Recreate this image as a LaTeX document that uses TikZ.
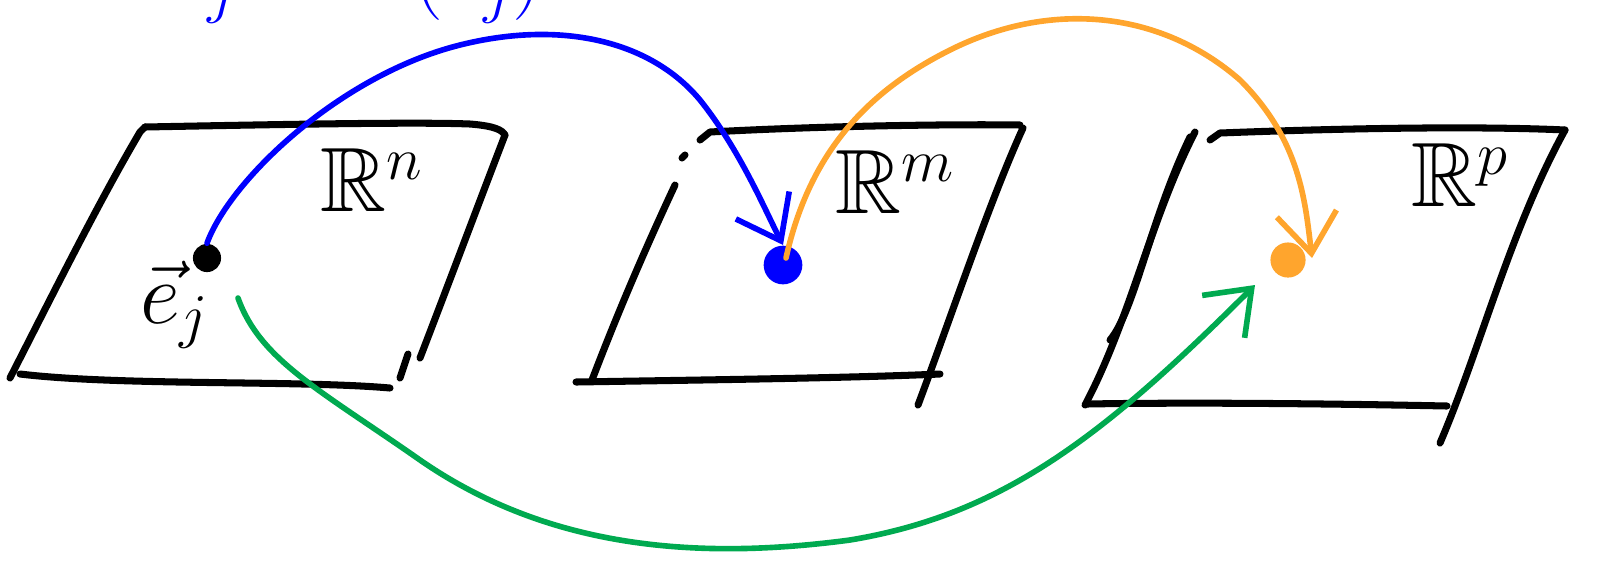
\documentclass[tikz,border=0pt]{standalone}
\usepackage{amsmath, amsfonts, amssymb}
\usepackage{tikz}
\usetikzlibrary{arrows.meta, positioning, calc}
\definecolor{mapblue}{RGB}{0, 0, 255}
\definecolor{maporange}{RGB}{255, 165, 45}
\definecolor{mapgreen}{RGB}{0, 170, 80}

\tikzset{
  plane/.style={line width=2pt, line cap=round, line join=round},
  maparrow/.style={line width=1.6pt, line cap=round, -{Straight Barb[length=4mm, width=6mm, line width=1.6pt]}},
  dot/.style={circle, inner sep=0pt, minimum size=8pt},
  spacelabel/.style={font=\fontsize{26}{30}\selectfont}
}

\begin{document}
\begin{tikzpicture}[x=0.01cm, y=-0.01cm]
        \useasboundingbox (0,0) rectangle (1604,566);

        % first plane, R^n
        \draw[plane] (145,127) .. controls (300,124) and (420,122) .. (470,124)
          .. controls (495,126) and (502,130) .. (505,135);
        \draw[plane] (145,127) -- (140,132) .. controls (100,200) and (60,280) .. (10,378);
        \draw[plane] (505,135) .. controls (480,200) and (450,280) .. (420,358);
        \draw[plane] (20,374) .. controls (120,386) and (300,380) .. (390,388);
        \draw[plane] (408,354) -- (400,378);

        % second plane, R^m
        \draw[plane] (700,140) -- (710,132) .. controls (820,126) and (950,124) .. (1020,125);
        \draw[plane] (685,155) -- (682,158);
        \draw[plane] (675,185) .. controls (640,260) and (615,320) .. (592,380);
        \draw[plane] (1023,128) .. controls (990,200) and (950,320) .. (918,405);
        \draw[plane] (576,382) .. controls (700,380) and (850,378) .. (940,374);

        % third plane, R^p
        \draw[plane] (1210,140) -- (1220,133) .. controls (1350,128) and (1480,126) .. (1565,130);
        \draw[plane] (1195,132) .. controls (1150,220) and (1130,320) .. (1085,405);
        \draw[plane] (1190,137) .. controls (1150,220) and (1135,310) .. (1110,340);
        \draw[plane] (1565,130) .. controls (1510,230) and (1480,350) .. (1440,443);
        \draw[plane] (1087,404) .. controls (1200,402) and (1350,404) .. (1447,406);

        % space labels
        \node[spacelabel] (Rn) at (372,180) {$\mathbb{R}^n$};
        \node[spacelabel] (Rm) at (895,182) {$\mathbb{R}^m$};
        \node[spacelabel] (Rp) at (1460,175) {$\mathbb{R}^p$};
        \node[spacelabel] (ej) at (175,305) {$\vec{e}_j$};

        % top label, mostly cut off
        \node[spacelabel, mapblue, anchor=base west] (tlabel) at (150,-2) {$a_j$ is $A(e_j)$};

        % points
        \node[dot, fill=black] (pe) at (207,258) {};
        \node[dot, fill=mapblue, minimum size=11pt] (pb) at (783,265) {};
        \node[dot, fill=maporange, minimum size=10pt] (po) at (1288,260) {};
        \coordinate (gs) at (238,298);
        \coordinate (ge) at (1255,285);

        % the maps
        \draw[maparrow, mapblue] (pe.north) .. controls (230,180) and (340,75) .. (460,45)
          .. controls (560,20) and (650,40) .. (700,100)
          .. controls (740,150) and (765,210) .. (pb.north);
        \draw[maparrow, maporange] (786,258) .. controls (810,150) and (870,90) .. (950,50)
          .. controls (1050,0) and (1160,10) .. (1240,80)
          .. controls (1300,140) and (1305,200) .. (1312,258);
        \draw[maparrow, mapgreen] (gs) .. controls (260,360) and (320,390) .. (420,460)
          .. controls (550,550) and (700,560) .. (850,540)
          .. controls (1000,515) and (1100,440) .. (ge);
      \end{tikzpicture}
\end{document}
